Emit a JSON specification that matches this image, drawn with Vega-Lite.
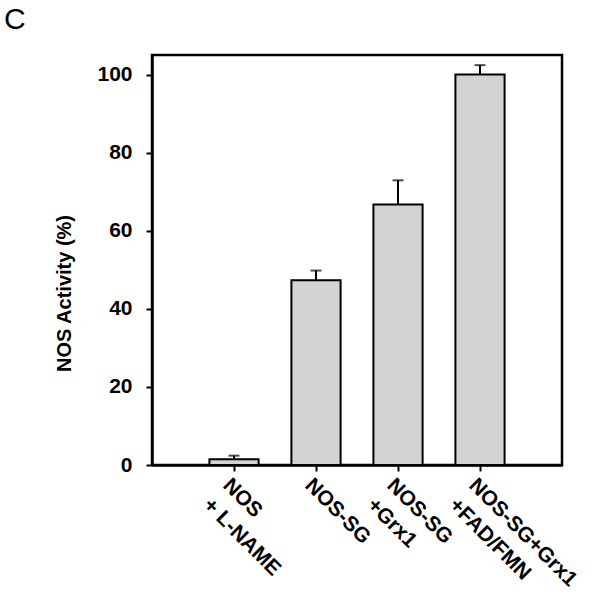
{
  "$schema": "https://vega.github.io/schema/vega-lite/v6.json",
  "width": 410,
  "height": 410,
  "autosize": {"type": "none"},
  "padding": {"left": 152, "top": 55, "right": 50, "bottom": 132},
  "background": "white",
  "title": {
    "text": "C",
    "anchor": "start",
    "frame": "group",
    "font": "Liberation Sans",
    "fontSize": 30,
    "fontWeight": "normal",
    "color": "black",
    "dx": -148,
    "offset": 20
  },
  "data": {
    "values": [
      {"group": "NOS\n+ L-NAME", "activity": 1.5, "upper": 2.4},
      {"group": "NOS-SG", "activity": 47.3, "upper": 49.8},
      {"group": "NOS-SG\n+Grx1", "activity": 66.7, "upper": 72.9},
      {"group": "NOS-SG+Grx1\n+FAD/FMN", "activity": 100, "upper": 102.4}
    ]
  },
  "encoding": {
    "x": {
      "field": "group",
      "type": "nominal",
      "sort": null,
      "scale": {"paddingInner": 0.4, "paddingOuter": 0.7},
      "axis": {
        "title": null,
        "labelAngle": 45,
        "labelAlign": "left",
        "labelBaseline": "top",
        "labelExpr": "split(datum.label, '\\n')",
        "labelFont": "Liberation Sans",
        "labelFontSize": 21,
        "labelFontWeight": "bold",
        "labelColor": "black",
        "labelPadding": 3,
        "labelLineHeight": 28,
        "labelOverlap": false,
        "tickColor": "black",
        "tickSize": 6,
        "tickWidth": 2,
        "domainColor": "black",
        "domainWidth": 2.5,
        "grid": false
      }
    }
  },
  "layer": [
    {
      "mark": {"type": "bar", "fill": "#d3d3d3", "stroke": "black", "strokeWidth": 2},
      "encoding": {
        "y": {
          "field": "activity",
          "type": "quantitative",
          "scale": {"domain": [0, 105], "nice": false},
          "axis": {
            "title": "NOS Activity (%)",
            "titleFont": "Liberation Sans",
            "titleFontSize": 20,
            "titleFontWeight": "bold",
            "titleColor": "black",
            "titleY": 238,
            "titlePadding": 22,
            "values": [0, 20, 40, 60, 80, 100],
            "labelFont": "Liberation Sans",
            "labelFontSize": 21,
            "labelFontWeight": "bold",
            "labelColor": "black",
            "labelPadding": 14,
            "tickColor": "black",
            "tickSize": 6,
            "tickWidth": 2,
            "domainColor": "black",
            "domainWidth": 2.5,
            "grid": false
          }
        }
      }
    },
    {
      "mark": {"type": "rule", "color": "black", "strokeWidth": 2},
      "encoding": {
        "y": {"field": "activity", "type": "quantitative"},
        "y2": {"field": "upper"}
      }
    },
    {
      "mark": {"type": "tick", "color": "black", "thickness": 2, "size": 11},
      "encoding": {
        "y": {"field": "upper", "type": "quantitative"}
      }
    }
  ],
  "config": {
    "view": {"stroke": "black", "strokeWidth": 2.5}
  }
}
